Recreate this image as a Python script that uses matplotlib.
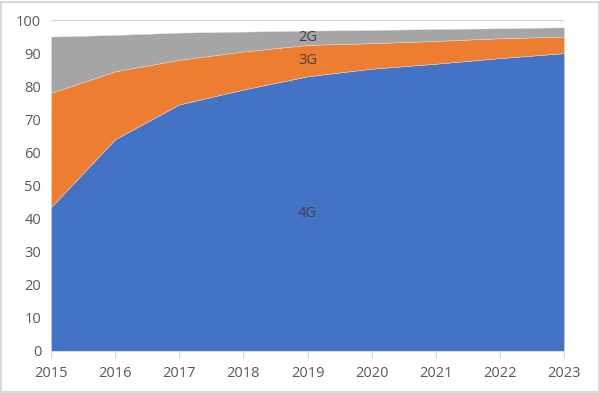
import matplotlib.pyplot as plt

years = [2015, 2016, 2017, 2018, 2019, 2020, 2021, 2022, 2023]
share_4g = [43.5, 64, 74.5, 79, 83, 85.3, 86.8, 88.5, 90]
share_3g = [34.5, 20.5, 13.5, 11.5, 9.5, 7.7, 6.9, 6.0, 5.0]
share_2g = [17, 11, 8.2, 6, 4.3, 4.0, 3.6, 3.0, 2.8]
series_names = ['4G', '3G', '2G']
colors = ['#4472C4', '#ED7D31', '#A5A5A5']

plt.rcParams['font.family'] = ['Open Sans', 'DejaVu Sans']

fig = plt.figure(figsize=(6, 3.93), dpi=100)
ax = fig.add_axes([0.085, 0.107, 0.855, 0.842])

# gridlines behind the areas
for v in range(0, 101, 10):
    ax.axhline(v, color='#D9D9D9', lw=1, zorder=0)

ax.stackplot(years, share_4g, share_3g, share_2g, colors=colors,
             edgecolor='#E0E0E0', linewidth=0.3, zorder=2)

# data labels in the middle category, centred in each band
mid = len(years) // 2
base = 0
for name, vals in zip(series_names, [share_4g, share_3g, share_2g]):
    ax.text(years[mid], base + vals[mid] / 2, name, ha='center', va='center',
            fontsize=10.5, color='#404040', zorder=3)
    base += vals[mid]

ax.set_xlim(years[0], years[-1])
ax.set_ylim(0, 100)
ax.set_xticks(years)
ax.set_yticks(range(0, 101, 10))
ax.tick_params(axis='both', labelsize=10.5, labelcolor='#595959')
ax.tick_params(axis='y', length=0, pad=7)
ax.tick_params(axis='x', length=5, color='#D9D9D9', pad=6)
for side in ['top', 'right', 'left']:
    ax.spines[side].set_visible(False)
ax.spines['bottom'].set_color('#D9D9D9')
ax.spines['bottom'].set_zorder(4)

# outer chart border
fig.patches.append(plt.Rectangle((0.002, 0.002), 0.996, 0.994, transform=fig.transFigure,
                                 fill=False, edgecolor='#D9D9D9', lw=1.5))

fig.savefig('out.png', dpi=100)
